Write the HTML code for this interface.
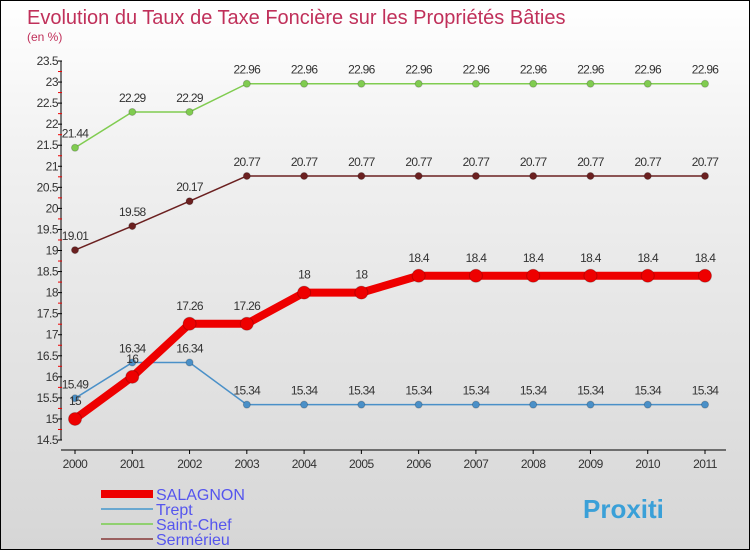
<!DOCTYPE html>
<html><head><meta charset="utf-8"><style>
body{margin:0}
#c{width:750px;height:550px;position:relative;box-sizing:border-box;border:1px solid #000;background:linear-gradient(#fff 0%,#f0f0f0 30%,#d6d6d6 100%);font-family:"Liberation Sans",sans-serif;overflow:hidden}
</style></head><body>
<div id="c">
<svg id="s" width="748" height="548" style="position:absolute;left:0;top:0"></svg>
</div>
<script>
const years=[2000,2001,2002,2003,2004,2005,2006,2007,2008,2009,2010,2011];
const salagnon=[15,16,17.26,17.26,18,18,18.4,18.4,18.4,18.4,18.4,18.4];
const trept=[15.49,16.34,16.34,15.34,15.34,15.34,15.34,15.34,15.34,15.34,15.34,15.34];
const saintChef=[21.44,22.29,22.29,22.96,22.96,22.96,22.96,22.96,22.96,22.96,22.96,22.96];
const sermerieu=[19.01,19.58,20.17,20.77,20.77,20.77,20.77,20.77,20.77,20.77,20.77,20.77];
const yTicks=[14.5,15,15.5,16,16.5,17,17.5,18,18.5,19,19.5,20,20.5,21,21.5,22,22.5,23,23.5];
const NS='http://www.w3.org/2000/svg';
const svg=document.getElementById('s');
function X(i){return 74+i*(630/11);}
function Y(v){return 439-(v-14.5)*(379/9);}
function el(t,a,txt){const e=document.createElementNS(NS,t);for(const k in a)e.setAttribute(k,a[k]);if(txt!==undefined)e.textContent=txt;svg.appendChild(e);return e;}
let e;
e=el('text',{x:26,y:23,'font-size':20,fill:'#c0305a'},'Evolution du Taux de Taxe Foncière sur les Propriétés Bâties');


e=el('text',{x:26,y:40,'font-size':12,fill:'#c0305a'},'(en %)');


e=el('line',{x1:60,y1:Y(23.5),x2:60,y2:Y(14.5),stroke:'#000'});


e=el('line',{x1:60,y1:449,x2:725,y2:449,stroke:'#000'});


yTicks.forEach((v,i)=>{
 el('line',{x1:57,y1:Y(v),x2:61,y2:Y(v),stroke:'#000'});
 if(i<yTicks.length-1) el('line',{x1:57,y1:Y(v+0.25),x2:61,y2:Y(v+0.25),stroke:'#e00'});
 e=el('text',{x:57,y:Y(v)+4,'font-size':12,'text-anchor':'end',fill:'#333','letter-spacing':'-0.5'},String(v));
 
 
});
years.forEach((yr,i)=>{
 el('line',{x1:X(i),y1:449,x2:X(i),y2:453,stroke:'#000'});
 e=el('text',{x:X(i),y:467,'font-size':12,'text-anchor':'middle',fill:'#333','letter-spacing':'-0.5'},String(yr));
 
 
});
function series(vals,color,w,r,name,labColor,labOff){
 const pts=vals.map((v,i)=>X(i)+','+Y(v)).join(' ');
 e=el('polyline',{points:pts,fill:'none',stroke:color,'stroke-width':w,'stroke-linejoin':'round'});
 
 
 vals.forEach((v,i)=>{
  e=el('circle',{cx:X(i),cy:Y(v),r:r,fill:color,stroke:'rgba(0,0,0,0.2)'});
  
  
  e=el('text',{x:X(i),y:Y(v)-labOff,'font-size':12,'text-anchor':'middle',fill:'#333','letter-spacing':'-0.7'},String(v));
  
  
 });
}
series(saintChef,'#80cc50',1.5,3.5,'saint-chef','#333',10);
series(sermerieu,'#6b2020',1.5,3.5,'sermerieu','#333',10);
series(trept,'#4a90c8',1.5,3.5,'trept','#333',10);
series(salagnon,'#ee0000',8,6.5,'salagnon','#333',14);
const legend=[['SALAGNON','#ee0000',8],['Trept','#6aa8d0',2],['Saint-Chef','#90d070',2],['Sermérieu','#9a6060',2]];
legend.forEach((l,i)=>{
 const y=492+i*15;
 e=el('line',{x1:100,y1:y+1,x2:152,y2:y+1,stroke:l[1],'stroke-width':l[2]});
 
 
 e=el('text',{x:155,y:y+7,'font-size':16,fill:'#5555ee'},l[0]);
 
 
});
e=el('text',{x:582,y:517,'font-size':26,'font-weight':'bold',fill:'#3aa0d8'},'Proxiti');


</script>
</body></html>
